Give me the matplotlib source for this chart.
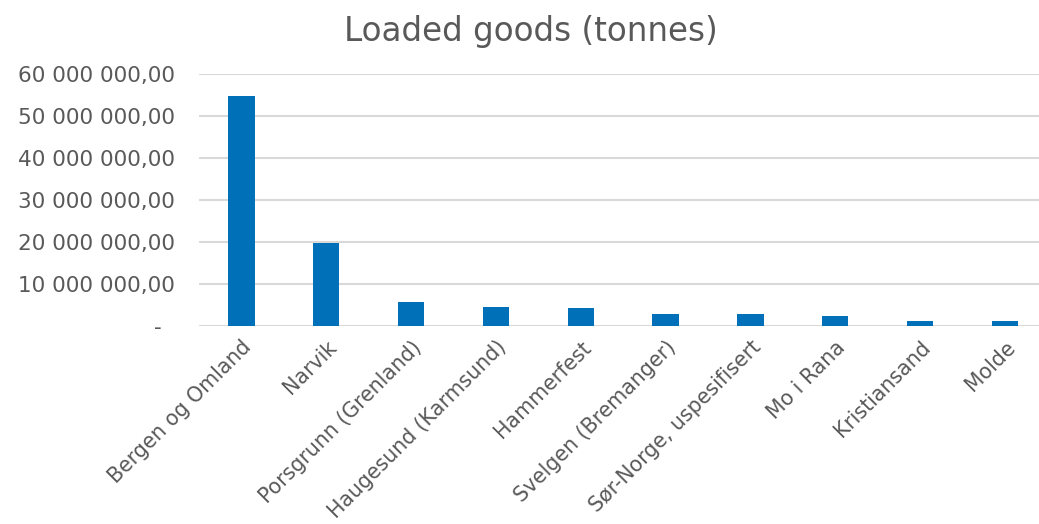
import matplotlib

matplotlib.use("Agg")
import matplotlib.pyplot as plt
from matplotlib.ticker import FuncFormatter

ports = [
    "Bergen og Omland",
    "Narvik",
    "Porsgrunn (Grenland)",
    "Haugesund (Karmsund)",
    "Hammerfest",
    "Svelgen (Bremanger)",
    "Sør-Norge, uspesifisert",
    "Mo i Rana",
    "Kristiansand",
    "Molde",
]
tonnes = [54650000, 19700000, 5700000, 4500000, 4300000, 2850000, 2750000, 2350000, 1250000, 1100000]
yticks = [0, 10000000, 20000000, 30000000, 40000000, 50000000, 60000000]

TEXT = "#595959"
BAR = "#0070b8"
GRID = "#d9d9d9"

plt.rcParams.update({"font.family": ["DejaVu Sans"], "text.color": TEXT})


def fmt(v, pos):
    if v == 0:
        return "-  "
    return f"{v:,.2f}".replace(",", " ").replace(".", ",")


fig = plt.figure(figsize=(10.39, 5.24), dpi=100)
ax = fig.add_axes([0.1915, 0.378, 0.8165, 0.481])

x = range(len(ports))
ax.bar(x, tonnes, width=0.31, color=BAR, zorder=3)

ax.set_xlim(-0.5, len(ports) - 0.5)
ax.set_ylim(0, 60000000)
ax.set_yticks(yticks)
ax.yaxis.set_major_formatter(FuncFormatter(fmt))
ax.grid(axis="y", color=GRID, lw=1.5, zorder=0)
ax.set_xticks(list(x))
ax.set_xticklabels(ports, rotation=45, ha="right", rotation_mode="anchor")
ax.tick_params(axis="both", length=0, colors=TEXT)
ax.tick_params(axis="y", pad=17, labelsize=15.5)
ax.tick_params(axis="x", pad=8, labelsize=14.8)
for sp in ax.spines.values():
    sp.set_visible(False)

fig.text(0.511, 0.94, "Loaded goods (tonnes)", ha="center", va="center", fontsize=23.5, color=TEXT)

fig.savefig("out.png", dpi=100, facecolor="white")
